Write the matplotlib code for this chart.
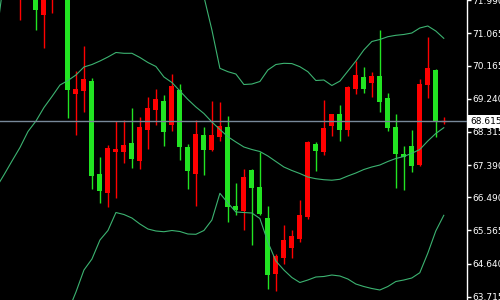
import matplotlib
matplotlib.use("Agg")
import matplotlib.pyplot as plt
from matplotlib.patches import Rectangle
import numpy as np

# ---------------- data ----------------
opens = [72.9, 72.4, 72.1, 72.7, 72.3, 71.584, 72.2, 72.3, 72.6, 69.38,
         69.463, 69.734, 67.148, 66.617, 67.761, 67.761, 68.004, 67.51, 68.375, 68.933,
         69.176, 68.515, 69.483, 67.893, 67.148, 68.227, 67.817, 68.18, 68.451, 66.246,
         66.107, 67.251, 66.776, 65.911, 64.357, 64.804, 65.083, 65.334, 65.948, 67.976,
         67.761, 68.487, 68.813, 68.375, 69.511, 69.846, 69.678, 69.874, 69.26, 68.459,
         67.706, 67.929, 67.399, 69.622, 70.041, 68.615]
highs = [73.2, 73.0, 72.7, 73.1, 72.5, 72.4, 72.8, 72.9, 72.8, 70.013,
         70.711, 69.818, 67.614, 67.948, 68.626, 68.646, 68.989, 68.73, 69.288, 69.511,
         69.343, 69.929, 69.65, 67.976, 68.646, 68.451, 69.176, 69.148, 68.758, 66.888,
         67.279, 67.279, 67.753, 66.246, 64.915, 65.716, 65.577, 66.414, 68.06, 68.032,
         69.204, 68.82, 69.064, 69.595, 70.292, 70.125, 69.985, 71.157, 69.399, 68.813,
         67.929, 68.375, 69.79, 70.962, 70.069, 68.73]
lows = [72.45, 72.15, 71.44, 72.2, 71.165, 70.663, 71.64, 72.05, 68.71, 68.236,
        68.877, 66.729, 66.338, 66.227, 66.478, 67.454, 67.315, 67.287, 67.845, 68.515,
        67.929, 68.347, 67.538, 66.729, 66.255, 67.12, 67.789, 68.068, 65.808, 65.995,
        65.585, 65.166, 65.99, 63.939, 63.883, 64.636, 64.804, 65.25, 65.892, 67.231,
        67.678, 68.208, 68.068, 68.208, 69.371, 69.399, 69.288, 68.869, 68.347, 66.757,
        66.701, 67.203, 67.371, 69.26, 68.18, 68.534]
closes = [72.6, 72.8, 72.5, 72.4, 71.72, 72.2, 72.6, 72.7, 69.491, 69.511,
          69.79, 67.092, 66.673, 67.873, 67.837, 67.948, 67.566, 68.451, 68.989, 69.232,
          68.319, 69.595, 67.901, 67.231, 68.255, 67.817, 68.227, 68.478, 66.227, 66.143,
          67.055, 66.757, 66.031, 64.329, 64.851, 65.298, 65.409, 65.995, 68.032, 67.789,
          68.423, 68.813, 68.375, 69.567, 69.902, 69.511, 69.874, 69.156, 68.431, 67.706,
          67.622, 67.371, 69.65, 70.097, 68.598, 68.615]

# Bollinger bands, first value belongs to bar index -1
band_start = -1
band_up = [70.88, 72.61, 73.30, 73.90, 74.50, 75.00, 75.40, 75.70, 76.10, 76.20,
           75.96, 75.79, 75.62, 75.29, 75.25, 74.99, 75.01, 75.10, 75.04, 74.90,
           74.73, 74.16, 73.85, 73.38, 72.97, 72.56, 72.09, 71.157, 70.088, 69.994,
           69.929, 69.636, 69.650, 69.720, 70.041, 70.194, 70.228, 70.220, 70.133, 69.994,
           69.748, 69.762, 69.609, 69.730, 70.010, 70.290, 70.600, 70.836, 70.892, 70.970,
           71.009, 71.032, 71.073, 71.213, 71.269, 71.129, 70.925]
band_mid = [66.748, 67.117, 67.502, 67.879, 68.325, 68.618, 68.995, 69.302, 69.622, 69.748,
            69.902, 70.125, 70.194, 70.292, 70.404, 70.529, 70.507, 70.507, 70.390, 70.250,
            70.139, 69.846, 69.692, 69.455, 69.218, 69.009, 68.827, 68.590, 68.381, 68.180,
            68.032, 67.893, 67.823, 67.767, 67.642, 67.488, 67.335, 67.237, 67.153, 67.055,
            67.008, 66.980, 66.966, 66.992, 67.084, 67.167, 67.265, 67.335, 67.390, 67.488,
            67.572, 67.628, 67.717, 67.823, 68.060, 68.269, 68.431]
band_low = [62.62, 61.62, 61.70, 61.86, 62.15, 62.24, 62.59, 62.90, 63.14, 63.30,
            63.847, 64.461, 64.768, 65.298, 65.563, 66.065, 66.009, 65.911, 65.744, 65.605,
            65.549, 65.529, 65.563, 65.535, 65.465, 65.457, 65.563, 65.856, 66.601, 66.330,
            66.079, 66.065, 66.051, 65.898, 65.242, 64.712, 64.461, 64.252, 64.112, 64.182,
            64.266, 64.280, 64.321, 64.294, 64.210, 64.070, 64.000, 63.945, 63.903, 64.000,
            64.140, 64.182, 64.238, 64.385, 64.930, 65.550, 65.987]

last_price = 68.615
tick_values = [71.990, 71.065, 70.165, 69.240, 68.315, 67.390, 66.490, 65.565, 64.640, 63.715]
tick_labels = ["71.990", "71.065", "70.165", "69.240", "68.315", "67.390", "66.490",
               "65.565", "64.640", "63.715"]

# ---------------- style ----------------
BG = "black"
UP = "#FF0000"
DOWN = "#22E422"
BAND = "#3CB371"
PRICE_LINE = "#778899"

W, H = 500, 300
fig = plt.figure(figsize=(5, 3), dpi=100, facecolor=BG)
ax = fig.add_axes([0, 0, 466.5 / W, 1])
ax.set_facecolor(BG)
ax.set_xlim(-0.5, 57.84)
ax.set_ylim(63.624, 71.994)

o = np.array(opens); h = np.array(highs); l = np.array(lows); c = np.array(closes)
x = np.arange(len(o))
cols = [UP if cc >= oo else DOWN for oo, cc in zip(o, c)]

# candles
ax.vlines(x, l, h, colors=cols, lw=1.0, zorder=2)
body_lo = np.minimum(o, c)
body_hi = np.maximum(o, c)
ax.bar(x, body_hi - body_lo, bottom=body_lo, width=0.625, color=cols, linewidth=0, zorder=3)
for xi, oo, cc, col in zip(x, o, c, cols):
    if abs(cc - oo) < 1e-9:
        ax.hlines(oo, xi - 0.33, xi + 0.33, colors=col, lw=1.0, zorder=3)

# bands
bx = np.arange(len(band_mid)) + band_start
for arr in (band_up, band_mid, band_low):
    ax.plot(bx, arr, color=BAND, lw=0.8, zorder=4)

# price line
ax.axhline(last_price, color=PRICE_LINE, lw=1.0, zorder=5)

# axes styling
for s in ("top", "left", "bottom"):
    ax.spines[s].set_visible(False)
ax.spines["right"].set_color("white")
ax.spines["right"].set_linewidth(1.0)
ax.set_xticks([])
ax.yaxis.tick_right()
ax.set_yticks(tick_values)
ax.set_yticklabels(tick_labels)
ax.tick_params(axis="y", colors="white", length=3, width=1, pad=1, labelsize=6.5)

# current price label box
ypix = (71.994 - last_price) / (71.994 - 63.624) * H
fig.add_artist(Rectangle((467.5 / W, (H - ypix - 6.5) / H), 33 / W, 12.5 / H,
                         transform=fig.transFigure, facecolor="white", edgecolor="none", zorder=10))
fig.text(470.5 / W, (H - ypix) / H, "%.3f" % last_price, color="black", fontsize=6.5,
         va="center", ha="left", zorder=11)

fig.savefig("out.png", dpi=100, facecolor=BG)
